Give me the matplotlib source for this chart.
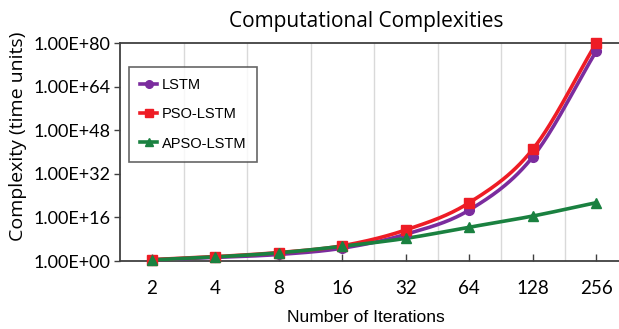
import numpy as np
import matplotlib
matplotlib.use("Agg")
import matplotlib.pyplot as plt
from matplotlib.ticker import FixedLocator, FuncFormatter
from matplotlib.lines import Line2D

# Iteration counts on the x axis
iterations = ["2", "4", "8", "16", "32", "64", "128", "256"]

# Complexity values as base-10 exponents (time units)
lstm_log10 = [0.4, 1.3, 2.4, 4.7, 9.8, 18.7, 38.2, 77.0]
pso_lstm_log10 = [0.5, 1.6, 3.1, 5.6, 11.4, 21.4, 41.0, 80.0]
apso_lstm_log10 = [0.4, 1.5, 3.0, 5.4, 8.3, 12.4, 16.5, 21.4]

y_ticks_log10 = [0, 16, 32, 48, 64, 80]

series = [
    ("LSTM", lstm_log10, "#7B2C9E", "o"),
    ("PSO-LSTM", pso_lstm_log10, "#EE1C25", "s"),
    ("APSO-LSTM", apso_lstm_log10, "#1A8140", "^"),
]


def smooth(xs, ys, n=30):
    """Catmull-Rom curve through the points (drawn in log space)."""
    xs = np.asarray(xs, float)
    ys = np.asarray(ys, float)
    px = np.concatenate([[2 * xs[0] - xs[1]], xs, [2 * xs[-1] - xs[-2]]])
    py = np.concatenate([[2 * ys[0] - ys[1]], ys, [2 * ys[-1] - ys[-2]]])
    out_x, out_y = [], []
    t = np.linspace(0, 1, n, endpoint=False)
    for i in range(1, len(px) - 2):
        for p, out in ((px, out_x), (py, out_y)):
            p0, p1, p2, p3 = p[i - 1], p[i], p[i + 1], p[i + 2]
            seg = 0.5 * ((2 * p1) + (-p0 + p2) * t
                         + (2 * p0 - 5 * p1 + 4 * p2 - p3) * t ** 2
                         + (-p0 + 3 * p1 - 3 * p2 + p3) * t ** 3)
            out.extend(seg)
    out_x.append(xs[-1])
    out_y.append(ys[-1])
    return np.array(out_x), np.array(out_y)


fig = plt.figure(figsize=(6.19, 3.29), dpi=100)
W, H = 619, 329
left, right, top, bottom = 120, 628, 43, 261
ax = fig.add_axes([left / W, 1 - bottom / H, (right - left) / W, (bottom - top) / H])

x = np.arange(len(iterations))
for name, vals, color, marker in series:
    sx, sy = smooth(x, vals)
    ax.plot(sx, 10.0 ** sy, color=color, lw=2.6, solid_capstyle="round", zorder=3)
    ax.plot(x, 10.0 ** np.asarray(vals), linestyle="none", marker=marker,
            markersize=7, color=color, zorder=4, clip_on=False)

ax.set_yscale("log")
ax.set_ylim(10.0 ** y_ticks_log10[0], 10.0 ** y_ticks_log10[-1])
ax.set_xlim(-0.5, len(iterations) - 0.5)

ax.yaxis.set_major_locator(FixedLocator([10.0 ** e for e in y_ticks_log10]))
ax.yaxis.set_minor_locator(FixedLocator([]))
ax.yaxis.set_major_formatter(FuncFormatter(lambda v, p: f"{v:.2E}"))

ax.set_xticks(x)
ax.set_xticklabels(iterations)
ax.set_xticks(x[:-1] + 0.5, minor=True)
ax.grid(True, which="minor", axis="x", color="#D9D9D9", lw=1.0)
ax.set_axisbelow(True)

for lab in ax.get_yticklabels():
    lab.set_fontfamily("Lato")
    lab.set_fontsize(13)
for lab in ax.get_xticklabels():
    lab.set_fontfamily("Lato")
    lab.set_fontsize(13.5)

ax.tick_params(axis="y", which="major", direction="out", length=4, width=1,
               color="#404040", pad=3)
ax.tick_params(axis="x", which="major", direction="in", length=5, width=1,
               color="#404040", pad=14)
ax.tick_params(axis="x", which="minor", length=0)

for side in ("left", "top", "bottom"):
    ax.spines[side].set_color("#404040")
    ax.spines[side].set_linewidth(1.3)
ax.spines["right"].set_visible(False)

fig.text(366 / W, 1 - 22 / H, "Computational Complexities", ha="center",
         va="center", fontsize=15, family="Open Sans")
fig.text(366 / W, 1 - 318 / H, "Number of Iterations", ha="center",
         va="center", fontsize=12.5, family="Liberation Sans")
fig.text(18 / W, 1 - 136 / H, "Complexity (time units)", ha="center",
         va="center", rotation=90, fontsize=14, family="Open Sans")

handles = [Line2D([], [], color=c, lw=2.6, marker=m, markersize=5.5)
           for _, _, c, m in series]
leg = ax.legend(handles, [s[0] for s in series], loc="upper left",
                bbox_to_anchor=((129 - left) / (right - left), 1 - (67 - top) / (bottom - top)),
                borderaxespad=0, frameon=True, fancybox=False, handlelength=1.2,
                handletextpad=0.3, labelspacing=1.05, borderpad=0.75,
                prop=dict(family="Liberation Sans", size=10.5))
leg.get_frame().set_edgecolor("#404040")
leg.get_frame().set_linewidth(1.2)

fig.savefig("out.png", dpi=100)
